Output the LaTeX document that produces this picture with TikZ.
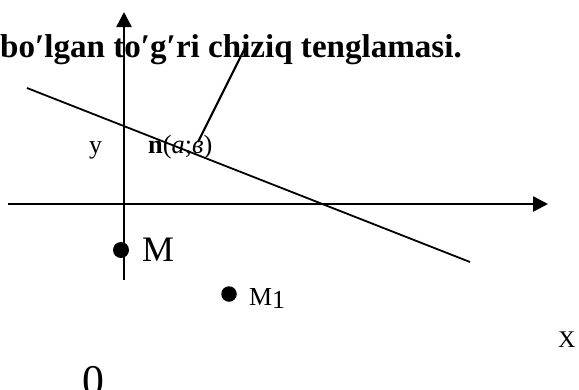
\documentclass[tikz,border=0pt]{standalone}
\usepackage{fontspec}
\setmainfont{Liberation Serif}
\usetikzlibrary{arrows.meta, positioning, calc}

\begin{document}
\begin{tikzpicture}[x=1bp, y=-1bp,
  axis/.style={line width=2.6bp, -{Triangle[length=15bp, width=15bp]}},
  lbl/.style={inner sep=0pt, anchor=base west},
  pointdot/.style={circle, fill=black, inner sep=0pt, minimum size=16bp}]
\useasboundingbox (0,0) rectangle (579,389);

% heading (cut at the left)
\node[lbl, font=\bfseries\fontsize{33.2}{38}\selectfont] (title) at (0,57) {bo′lgan to′g′ri chiziq tenglamasi.};

% axes
\coordinate (xstart) at (8,204);
\coordinate (xend) at (548,204);
\coordinate (ystart) at (124,280);
\coordinate (yend) at (124,12);
\draw[axis] (xstart) -- (xend);
\draw[axis] (ystart) -- (yend);

% line and its normal
\coordinate (lineA) at (27,88);
\coordinate (lineB) at (470,262);
\draw[line width=1.8bp] (lineA) -- (lineB);
\coordinate (normA) at (198,142);
\coordinate (normB) at (247,44);
\draw[line width=2.2bp] (normA) -- (normB);

% labels
\node[lbl, font=\fontsize{26}{30}\selectfont] (ylabel) at (89,153) {y};
\node[lbl, font=\fontsize{26.5}{30}\selectfont] (nlabel) at (148,153) {\textbf{n}(\textit{a};\textit{в})};
\node[lbl, font=\fontsize{24}{28}\selectfont] (xlabel) at (558,347) {X};
\node[lbl, font=\fontsize{44}{50}\selectfont] (origin) at (82,395) {0};

% points
\node[pointdot] (M) at (121,250) {};
\node[lbl, font=\fontsize{36}{42}\selectfont] (Mlabel) at (142,261) {M};
\node[pointdot, minimum size=15.5bp] (M1) at (229,294) {};
\node[lbl, font=\fontsize{26}{30}\selectfont] (M1label) at (249,305) {M\raisebox{-3bp}{1}};
\end{tikzpicture}
\end{document}
